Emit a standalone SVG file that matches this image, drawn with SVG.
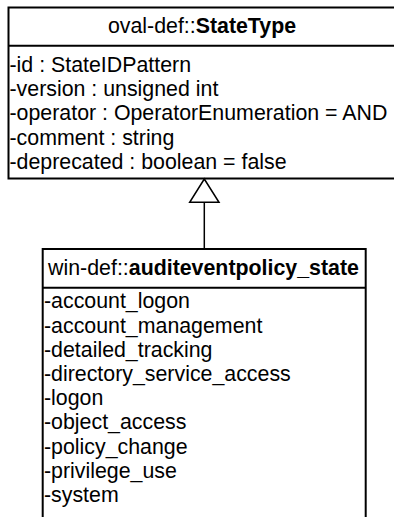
<svg xmlns="http://www.w3.org/2000/svg" width="394" height="517" viewBox="0 0 394 517">
<style>
.box{fill:#fff;stroke:#000;stroke-width:2}
.div{stroke:#000;stroke-width:2}
text{font-family:"Liberation Sans",Arial,sans-serif;font-size:21.35px;fill:#000}
.b{font-weight:bold}
.conn{stroke:#000;stroke-width:1.5;fill:none}
.head{fill:#fff;stroke:#000;stroke-width:1.5}
</style>
<rect width="394" height="517" fill="#fff"/>
<g id="StateType">
<rect class="box" x="8.5" y="7.5" width="400" height="171"/>
<line class="div" x1="8.5" y1="45.7" x2="400" y2="45.7"/>
<text x="202" y="33.3" text-anchor="middle">oval-def::<tspan class="b">StateType</tspan></text>
<text x="9.5" y="72">-id : StateIDPattern</text>
<text x="9.5" y="96.2">-version : unsigned int</text>
<text x="9.5" y="120.4">-operator : OperatorEnumeration = AND</text>
<text x="9.5" y="144.6">-comment : string</text>
<text x="9.5" y="168.8">-deprecated : boolean = false</text>
</g>
<g id="auditeventpolicy_state">
<rect class="box" x="42.7" y="249" width="323" height="290"/>
<line class="div" x1="42.7" y1="287.7" x2="365.7" y2="287.7"/>
<text x="203.5" y="275" text-anchor="middle">win-def::<tspan class="b">auditeventpolicy_state</tspan></text>
<text x="44" y="308.3">-account_logon</text>
<text x="44" y="332.5">-account_management</text>
<text x="44" y="356.7">-detailed_tracking</text>
<text x="44" y="380.9">-directory_service_access</text>
<text x="44" y="405.1">-logon</text>
<text x="44" y="429.3">-object_access</text>
<text x="44" y="453.5">-policy_change</text>
<text x="44" y="477.7">-privilege_use</text>
<text x="44" y="501.9">-system</text>
</g>
<g id="connectors">
<line class="conn" x1="204.3" y1="202.3" x2="204.3" y2="249"/>
<polygon class="head" points="204.3,179 189.7,202.3 219,202.3"/>
</g>
</svg>
